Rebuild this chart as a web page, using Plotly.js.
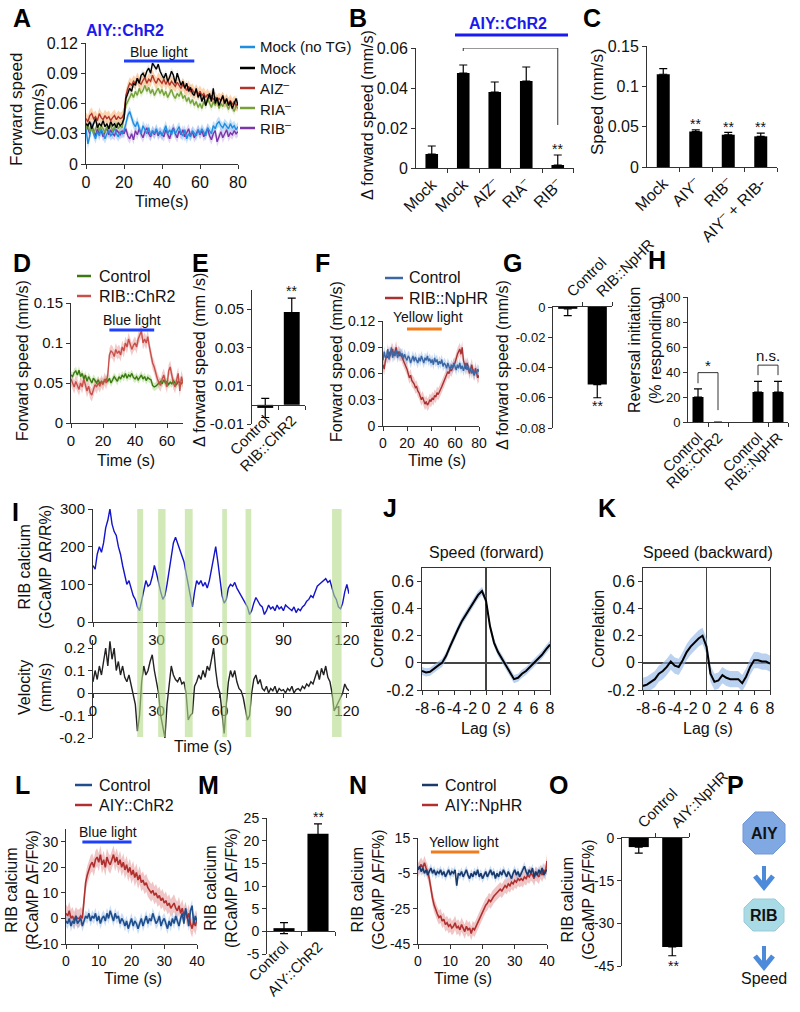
<!DOCTYPE html>
<html><head><meta charset="utf-8">
<script src="https://cdn.plot.ly/plotly-3.0.1.min.js"></script>
<style>html,body{margin:0;padding:0;background:#fff}#chart{width:800px;height:1012px}</style>
</head><body><div id="chart"></div>
<script>
// ---------------- DATA ----------------
// Panel A (forward speed, mm/s, 1 s steps, 0-80 s)
const dtA = 1;
const namesA = ['Mock (no TG)', 'Mock', 'AIZ<sup>–</sup>', 'RIA<sup>–</sup>', 'RIB<sup>–</sup>'];
const aMockNoTG = [0.035,0.02,0.028,0.04,0.03,0.025,0.032,0.028,0.035,0.03,0.025,0.03,0.033,0.028,0.03,0.036,0.03,0.027,0.032,0.03,
 0.033,0.04,0.048,0.052,0.045,0.04,0.037,0.042,0.035,0.03,0.038,0.033,0.03,0.036,0.028,0.033,0.03,0.035,0.03,0.032,
 0.028,0.033,0.038,0.03,0.034,0.029,0.035,0.03,0.033,0.037,0.03,0.028,0.034,0.025,0.03,0.027,0.033,0.03,0.028,0.034,
 0.03,0.035,0.032,0.028,0.036,0.033,0.03,0.038,0.035,0.04,0.042,0.038,0.036,0.04,0.037,0.035,0.04,0.036,0.038,0.034,0.037];
const aMock = [0.04,0.038,0.042,0.035,0.04,0.045,0.036,0.04,0.038,0.043,0.037,0.04,0.035,0.042,0.038,0.04,0.036,0.041,0.038,0.04,
 0.045,0.065,0.07,0.075,0.072,0.08,0.078,0.085,0.08,0.088,0.09,0.086,0.092,0.095,0.09,0.1,0.097,0.094,0.099,0.092,
 0.088,0.085,0.09,0.082,0.086,0.092,0.088,0.08,0.09,0.085,0.078,0.082,0.075,0.08,0.072,0.076,0.07,0.068,0.075,0.066,
 0.07,0.062,0.068,0.058,0.065,0.07,0.062,0.075,0.06,0.066,0.058,0.064,0.068,0.06,0.065,0.058,0.062,0.055,0.06,0.065,0.058];
const aAIZ = [0.045,0.042,0.048,0.05,0.045,0.047,0.043,0.05,0.046,0.044,0.048,0.045,0.047,0.043,0.046,0.048,0.044,0.047,0.045,0.046,
 0.05,0.068,0.075,0.08,0.078,0.082,0.08,0.085,0.081,0.079,0.083,0.086,0.08,0.084,0.082,0.088,0.083,0.08,0.085,0.082,
 0.08,0.084,0.079,0.083,0.078,0.082,0.08,0.077,0.081,0.078,0.075,0.079,0.076,0.073,0.077,0.072,0.074,0.07,0.073,0.069,
 0.072,0.068,0.07,0.066,0.069,0.065,0.068,0.064,0.066,0.062,0.065,0.063,0.066,0.061,0.064,0.06,0.063,0.059,0.062,0.058,0.06];
const aRIA = [0.035,0.04,0.032,0.038,0.03,0.036,0.04,0.033,0.038,0.035,0.031,0.037,0.034,0.039,0.033,0.036,0.04,0.035,0.038,0.036,
 0.045,0.058,0.062,0.065,0.07,0.066,0.072,0.068,0.075,0.07,0.073,0.078,0.072,0.076,0.07,0.074,0.068,0.072,0.075,0.07,
 0.074,0.068,0.072,0.066,0.07,0.074,0.068,0.065,0.07,0.067,0.072,0.065,0.068,0.062,0.066,0.06,0.064,0.058,0.062,0.056,
 0.06,0.055,0.062,0.058,0.065,0.06,0.056,0.062,0.058,0.064,0.055,0.06,0.057,0.063,0.058,0.054,0.06,0.056,0.052,0.058,0.055];
const aRIB = [0.04,0.035,0.03,0.038,0.032,0.028,0.035,0.03,0.033,0.027,0.032,0.036,0.029,0.034,0.03,0.028,0.034,0.031,0.029,0.033,
 0.03,0.035,0.028,0.025,0.03,0.024,0.033,0.029,0.035,0.03,0.026,0.032,0.036,0.03,0.027,0.033,0.029,0.034,0.028,0.032,
 0.03,0.027,0.034,0.029,0.025,0.032,0.036,0.03,0.026,0.033,0.029,0.034,0.027,0.031,0.035,0.028,0.032,0.026,0.03,0.034,
 0.029,0.033,0.027,0.031,0.035,0.028,0.024,0.03,0.033,0.022,0.028,0.032,0.026,0.03,0.034,0.027,0.031,0.029,0.033,0.03,0.032];
const semA = [0.005,0.004,0.006,0.004,0.005];
const lightA = [20, 57];

// Panel B
const catB = ['Mock', 'Mock', 'AIZ<sup>–</sup>', 'RIA<sup>–</sup>', 'RIB<sup>–</sup>'];
const valB = [0.007, 0.0475, 0.038, 0.0435, 0.0015];
const errB = [0.004, 0.004, 0.005, 0.007, 0.005];

// Panel C
const catC = ['Mock', 'AIY<sup>–</sup>', 'RIB<sup>–</sup>', 'AIY<sup>–</sup> + RIB-'];
const valC = [0.115, 0.044, 0.040, 0.038];
const errC = [0.007, 0.002, 0.003, 0.004];

// Panel D (0-70 s)
const dtD = 1;
const namesD = ['Control', 'RIB::ChR2'];
const dControl = [0.06,0.058,0.063,0.065,0.06,0.066,0.058,0.062,0.055,0.06,0.052,0.058,0.054,0.05,0.056,0.052,0.05,0.054,0.049,0.052,
 0.05,0.053,0.055,0.052,0.056,0.05,0.054,0.058,0.055,0.052,
 0.058,0.055,0.06,0.057,0.062,0.056,0.06,0.058,0.062,0.057,0.055,0.058,0.054,0.057,0.06,0.055,0.058,0.053,0.057,0.055,
 0.054,0.047,0.045,0.046,0.048,0.05,0.052,0.049,0.054,0.05,0.052,0.048,0.051,0.049,0.053,0.05,0.048,0.052,0.05,0.049,0.052];
const dChR2 = [0.055,0.05,0.045,0.052,0.048,0.042,0.05,0.045,0.055,0.048,0.04,0.046,0.038,0.035,0.042,0.048,0.045,0.05,0.046,0.052,
 0.048,0.055,0.05,0.06,0.085,0.09,0.088,0.083,0.092,0.087,0.09,0.085,0.095,0.09,0.1,0.095,0.105,0.098,0.092,0.097,
 0.1,0.095,0.105,0.11,0.115,0.1,0.105,0.1,0.108,0.095,0.085,0.075,0.07,0.062,0.055,0.05,0.047,0.055,0.06,0.052,
 0.045,0.065,0.07,0.06,0.05,0.045,0.055,0.062,0.04,0.058,0.05];
const semD = [0.005, 0.008];
const lightD = [24, 52];

// Panel E
const catE = ['Control', 'RIB::ChR2'];
const valE = [-0.0016, 0.0485];
const errE = [0.005, 0.0073];
const ticksE = [-0.01, 0.01, 0.03, 0.05];

// Panel F (0-80 s)
const dtF = 1;
const namesF = ['Control', 'RIB::NpHR'];
const fControl = [0.075,0.085,0.078,0.08,0.088,0.076,0.082,0.09,0.078,0.085,0.08,0.087,0.078,0.082,0.085,0.08,0.083,0.077,0.082,0.078,
 0.075,0.08,0.078,0.072,0.076,0.08,0.074,0.079,0.075,0.072,0.078,0.074,0.08,0.076,0.072,0.078,0.075,0.08,0.074,0.077,
 0.072,0.076,0.07,0.078,0.073,0.076,0.07,0.074,0.071,0.076,0.068,0.072,0.07,0.066,0.072,0.068,0.065,0.07,0.066,0.072,
 0.068,0.064,0.07,0.066,0.072,0.065,0.069,0.063,0.068,0.072,0.064,0.068,0.062,0.066,0.06,0.065,0.058,0.063,0.06,0.065,0.062];
const fNpHR = [0.07,0.065,0.075,0.08,0.078,0.085,0.08,0.083,0.088,0.08,0.085,0.09,0.082,0.085,0.08,0.082,0.078,0.075,0.072,0.068,
 0.065,0.06,0.055,0.058,0.052,0.05,0.048,0.044,0.045,0.04,0.038,0.034,0.03,0.033,0.028,0.025,0.028,0.024,0.026,0.03,
 0.028,0.032,0.03,0.035,0.033,0.038,0.036,0.04,0.042,0.045,0.048,0.052,0.055,0.058,0.062,0.06,0.065,0.063,0.068,0.07,
 0.072,0.078,0.082,0.085,0.088,0.082,0.09,0.075,0.07,0.065,0.072,0.068,0.06,0.065,0.07,0.062,0.058,0.066,0.06,0.055,0.058];
const semF = [0.006, 0.007];
const lightF = [20, 49];

// Panel G
const catG = ['Control', 'RIB::NpHR'];
const valG = [-0.0012, -0.0513];
const errG = [0.0045, 0.0087];
const ticksG = [0, -0.02, -0.04, -0.06, -0.08];

// Panel H
const catH = ['Control', 'RIB::ChR2', 'Control', 'RIB::NpHR'];
const posH = [0, 1, 3, 4];
const valH = [20, 0, 24, 24];
const errH = [6.5, 0, 8.5, 8.5];

// Panel I (1 s steps, 0-121 s)
const dtI = 1;
const iCalcium = [150,140,180,200,185,210,250,270,300,260,240,230,200,180,150,120,100,110,90,70,
 60,40,30,60,90,110,95,100,120,150,130,100,80,60,70,100,140,180,210,225,
 210,190,180,160,130,100,60,40,80,110,100,110,95,105,90,110,140,170,200,160,
 110,70,50,60,90,100,95,105,90,80,70,60,50,40,20,30,50,65,55,45,
 40,20,30,45,35,40,30,45,35,40,30,45,40,35,30,40,25,35,30,40,
 45,55,60,70,65,80,95,100,105,110,115,105,110,90,70,60,40,35,50,80,
 100,75];
const iVelocity = [0.05,0.1,0.06,0.12,0.08,0.15,0.2,0.12,0.23,0.15,0.2,0.1,0.14,0.08,0.12,0.07,0.05,0.08,0.04,0.0,
 -0.05,-0.17,-0.1,0.05,0.12,0.08,0.1,0.14,0.17,0.1,0.05,0.0,-0.1,-0.15,-0.2,-0.05,0.05,0.12,0.08,0.06,
 0.05,0.07,0.04,0.05,0.0,-0.12,-0.1,-0.09,0.03,0.05,0.08,0.06,0.1,0.07,0.12,0.1,0.15,0.2,0.1,0.03,
 0.0,-0.08,-0.18,-0.05,0.05,0.1,0.07,0.1,0.05,0.02,0.01,-0.02,-0.08,-0.12,-0.1,0.0,0.06,0.08,0.04,0.06,
 0.02,0.01,0.03,0.0,0.02,0.01,0.03,0.0,0.02,0.01,0.015,0.0,0.02,0.01,0.03,0.0,0.015,0.02,0.01,0.03,
 0.02,0.04,0.03,0.05,0.04,0.07,0.1,0.06,0.11,0.08,0.12,0.07,0.05,0.0,-0.08,-0.06,-0.04,-0.02,0.0,0.04,
 0.02,0.01];
const reversalStart = [20.9, 30.8, 43.4, 61.1, 72.1, 113.0];
const reversalEnd   = [23.7, 34.3, 47.1, 63.3, 74.8, 117.5];
const ticksIx = [0, 30, 60, 90, 120];
const ticksIv = [-0.2, -0.1, 0, 0.1, 0.2];

// Panels J, K (lag -8..8, 0.5 s)
const dLag = 0.5;
const lagStart = -8;
const jForward = [-0.06,-0.07,-0.065,-0.04,-0.02,0.0,0.05,0.12,0.19,0.25,0.31,0.36,0.41,0.45,0.5,0.53,0.46,0.27,0.15,0.08,0.03,-0.02,-0.07,-0.12,-0.11,-0.08,-0.06,-0.03,0.0,0.03,0.06,0.1,0.135];
const kBackward = [-0.17,-0.16,-0.14,-0.12,-0.08,-0.06,-0.03,0.01,-0.02,-0.03,0.02,0.08,0.12,0.15,0.18,0.2,0.12,-0.08,-0.14,-0.13,-0.09,-0.11,-0.12,-0.12,-0.12,-0.15,-0.1,-0.03,0.02,0.02,0.01,0.01,-0.005];
const semJ = 0.03, semK = 0.06;
const ticksLag = [-8, -6, -4, -2, 0, 2, 4, 6, 8];
const ticksCorr = [-0.2, 0, 0.2, 0.4, 0.6];

// Panel L (0.5 s, 0-40 s)
const dtL = 0.5;
const namesL = ['Control', 'AIY::ChR2'];
const lControl = [-1,-2,0,-3,-1,-2,1,-2,-1,0, -3,-1,1,0,2,-1,1,0,2,-1, 1,-2,0,1,-1,2,0,3,1,-1, 2,0,1,-2,0,-1,-3,-1,-4,-2,
 0,-3,-1,-2,-4,-2,0,-3,-1,1, -2,0,-1,2,0,-2,-1,1,-3,-1, 0,-2,-4,-1,-3,0,-2,1,-1,-3, 0,2,-2,4,1,-3,3,5,-2,1, -1];
const lChR2 = [2,1,3,0,1,-1,1,0,0,1,0, 8,14,17,19,21,22,20,23,24, 22,25,21,23,20,24,22,21,23,25, 22,24,21,23,20,22,19,21,18,20,
 17,19,16,18,15,17,14,15,13,14, 12,11,10,11,9,10,8,9,7,8, 6,7,5,6,4,5,6,4,3,5, 2,4,1,3,0,2,-2,-4,-1,-3, 0];
const semL = [2.2, 3.5];
const lightL = [5, 20];
const ticksL = [-10, 0, 10, 20, 30];

// Panel M
const catM = ['Control', 'AIY::ChR2'];
const valM = [0.7, 21.5];
const errM = [1.2, 2.2];
const ticksM = [-5, 0, 5, 10, 15, 20, 25];

// Panel N (0.5 s, 0-40 s)
const dtN = 0.5;
const namesN = ['Control', 'AIY::NpHR'];
const nControl = [-3,-1,-4,-2,-5,-3,-6,-4,-2,-5, -3,-6,-4,-5,-3,-6,-4,-7,-5,-3, -6,-4,-5,-3,-12,-5,-6,-4,-7,-5, -3,-6,-8,-5,-7,-4,-6,-3,-7,-5,
 -8,-6,-4,-7,-5,-3,-6,-4,-8,-5, -7,-4,-6,-3,-5,-7,-4,-6,-8,-5, -3,-6,-4,-7,-5,-3,-1,-4,-6,-3, -5,-2,-7,-4,-6,-3,-5,-2,-6,-4, -3];
const nNpHR = [-3,-1,0,-2,1,-2,-4, -8,-14,-19,-23,-26,-28,-30,-29, -32,-31,-34,-33,-35,-34,-36,-35,-33,-36, -35,-37,-34,-36,-38,-35,-37,-36,-39,-36,
 -37,-35,-33,-31,-28,-26,-25,-23,-22,-20, -21,-19,-18,-17,-16,-15,-14,-15,-13,-12, -13,-11,-12,-10,-11,-9,-10,-8,-9,-8,
 -9,-7,-8,-6,-7,-5,-6,-8,-5,-6, -7,-4,-6,-3,-5,2];
const semN = [2.5, 4];
const lightN = [4, 19];
const ticksN = [-45, -25, -5, 15];

// Panel O
const catO = ['Control', 'AIY::NpHR'];
const valO = [-3.2, -38.3];
const errO = [2.1, 3.1];
const ticksO = [0, -15, -30, -45];

// ---------------- HELPERS ----------------
const FONT = '"Liberation Sans", Arial, sans-serif';
const W = 800, H = 1012;
const X = p => p / W, Y = p => 1 - p / H;
const xd = (a, b) => [X(a), X(b)], yd = (t, b) => [Y(b), Y(t)];
const traces = [], ann = [], shp = [];
const tOf = (arr, dt, start) => arr.map((_, i) => (start || 0) + i * dt);
const F = (s) => ({family: FONT, size: s, color: '#111'});

function txt(text, px, py, o) {
  ann.push(Object.assign({text: text, x: X(px), y: Y(py), xref: 'paper', yref: 'paper', showarrow: false,
    xanchor: 'center', yanchor: 'middle', font: F(16)}, o || {}));
}
function vtxt(text, px, py, size) { txt(text, px, py, {textangle: -90, font: F(size || 16)}); }
function letter(l, px, py) { txt('<b>' + l + '</b>', px, py, {font: {family: FONT, size: 25, color: '#000'}}); }
function dtxt(text, xa, ya, x, y, size) {
  ann.push({text: text, x: x, y: y, xref: xa, yref: ya, showarrow: false, xanchor: 'center', yanchor: 'middle', font: F(size || 14)});
}
function pline(x0, y0, x1, y1, color, w) {
  shp.push({type: 'line', xref: 'paper', yref: 'paper', x0: X(x0), y0: Y(y0), x1: X(x1), y1: Y(y1), line: {color: color, width: w}});
}
function dline(xa, ya, x0, y0, x1, y1, color, w) {
  shp.push({type: 'line', xref: xa, yref: ya, x0: x0, y0: y0, x1: x1, y1: y1, line: {color: color, width: w}});
}
function lightBar(xa, range, py, color) {
  shp.push({type: 'line', xref: xa, yref: 'paper', x0: range[0], x1: range[1], y0: Y(py), y1: Y(py), line: {color: color, width: 3}});
}
function legendItem(x0, x1, py, color, label, tx, size) {
  pline(x0, py, x1, py, color, 2.5);
  txt(label, tx, py, {xanchor: 'left', font: F(size || 15)});
}
function addLine(xs, ys, color, xa, ya, w) {
  traces.push({type: 'scatter', mode: 'lines', x: xs, y: ys, xaxis: xa, yaxis: ya, line: {color: color, width: w || 1.3},
    hoverinfo: 'skip', showlegend: false});
}
function addBand(xs, ys, sem, fill, xa, ya) {
  traces.push({type: 'scatter', mode: 'lines', x: xs, y: ys.map(v => v + sem), xaxis: xa, yaxis: ya, line: {width: 0},
    hoverinfo: 'skip', showlegend: false});
  traces.push({type: 'scatter', mode: 'lines', x: xs, y: ys.map(v => v - sem), xaxis: xa, yaxis: ya, line: {width: 0},
    fill: 'tonexty', fillcolor: fill, hoverinfo: 'skip', showlegend: false});
}
function addBars(xs, ys, errP, errMn, xa, ya, width) {
  traces.push({type: 'bar', x: xs, y: ys, xaxis: xa, yaxis: ya, width: width, marker: {color: '#000', line: {width: 0}},
    error_y: {type: 'data', symmetric: false, array: errP, arrayminus: errMn, color: '#000', thickness: 1.2, width: 4},
    hoverinfo: 'skip', showlegend: false, cliponaxis: false});
}
function ax(o) {
  return Object.assign({showline: true, linecolor: '#333', linewidth: 1, ticks: 'outside', ticklen: 4, tickwidth: 1,
    tickcolor: '#333', showgrid: false, zeroline: false, automargin: false, fixedrange: true, tickfont: F(16)}, o);
}
function tk(vals) { return {tickmode: 'array', tickvals: vals, ticktext: vals.map(v => String(v))}; }
function catAx(dom, pos, labels, o, size) {
  const mids = pos.map(p => p + 0.5);
  return ax(Object.assign({domain: dom, range: [-0.5, pos[pos.length - 1] + 0.5], tickmode: 'array', tickvals: pos,
    ticktext: labels, ticks: '', tickangle: -45, tickfont: F(size || 15),
    minor: {tickmode: 'array', tickvals: mids, ticks: 'outside', ticklen: 4, tickcolor: '#333', tickwidth: 1}}, o));
}
const idx = arr => arr.map((_, i) => i);

const layout = {width: W, height: H, margin: {l: 0, r: 0, t: 0, b: 0}, paper_bgcolor: '#fff', plot_bgcolor: 'rgba(0,0,0,0)',
  font: F(16), showlegend: false, barmode: 'overlay'};

// ---------------- PANEL A ----------------
{
  const t = tOf(aMock, dtA);
  const cols = ['#1e8ee0', '#000000', '#b0362c', '#76a03a', '#7b36a8'];
  const fills = ['rgba(110,180,240,0.40)', 'rgba(120,120,120,0.15)', 'rgba(250,160,80,0.45)', 'rgba(170,205,110,0.30)', 'rgba(185,150,225,0.40)'];
  const ser = [aMockNoTG, aMock, aAIZ, aRIA, aRIB];
  [4, 0, 3, 2, 1].forEach(i => addBand(t, ser[i], semA[i], fills[i], 'x', 'y'));
  [4, 0, 3, 2, 1].forEach(i => addLine(t, ser[i], cols[i], 'x', 'y', 1.4));
  layout.xaxis = ax({domain: xd(86, 238), range: [0, 80], dtick: 20, anchor: 'y', tickfont: F(16)});
  layout.yaxis = ax({domain: yd(43, 164), range: [0, 0.12], dtick: 0.03, anchor: 'x', tickfont: F(16)});
  letter('A', 22, 18);
  txt('<b>AIY::ChR2</b>', 125, 30, {font: {family: FONT, size: 16, color: '#1a1aee'}});
  lightBar('x', lightA, 61, '#1f3fff');
  dtxt('Blue light', 'x', 'paper', (lightA[0] + lightA[1]) / 2, Y(52), 14);
  vtxt('Forward speed<br>(mm/s)', 27, 110, 17);
  txt('Time(s)', 162, 202, {font: F(16)});
  const ly = [47, 68, 88, 108, 128];
  namesA.forEach((n, i) => legendItem(240, 255, ly[i], cols[i], n, 258, 15));
}

// ---------------- PANEL B ----------------
{
  addBars(idx(valB), valB, errB, valB.map(() => 0), 'x2', 'y2', 0.4);
  layout.xaxis2 = catAx(xd(416, 573.5), idx(catB), catB, {anchor: 'y2'}, 16);
  layout.yaxis2 = ax({domain: yd(48, 168), range: [0, 0.06], dtick: 0.02, anchor: 'x2'});
  letter('B', 358, 18);
  txt('<b>AIY::ChR2</b>', 508, 24, {font: {family: FONT, size: 16, color: '#1a1aee'}});
  pline(455, 35, 568, 35, '#1a1aee', 3);
  dline('x2', 'y2', 1, 0.0585, 1, 0.06, '#333', 1);
  dline('x2', 'y2', 1, 0.06, 4, 0.06, '#333', 1);
  dline('x2', 'y2', 4, 0.06, 4, 0.0215, '#333', 1);
  dtxt('**', 'x2', 'y2', 4, 0.0095, 14);
  vtxt('Δ forward speed (mm/s)', 367, 115, 16);
}

// ---------------- PANEL C ----------------
{
  addBars(idx(valC), valC, errC, valC.map(() => 0), 'x3', 'y3', 0.4);
  layout.xaxis3 = catAx(xd(647, 777), idx(catC), catC, {anchor: 'y3'}, 16);
  layout.yaxis3 = ax({domain: yd(46, 167), range: [0, 0.15], dtick: 0.05, anchor: 'x3'});
  letter('C', 592, 18);
  [1, 2, 3].forEach(i => dtxt('**', 'x3', 'y3', i, valC[i] + errC[i] + 0.007, 14));
  vtxt('Speed (mm/s)', 598, 102, 17);
}

// ---------------- PANEL D ----------------
{
  const t = tOf(dControl, dtD);
  addBand(t, dControl, semD[0], 'rgba(160,210,120,0.45)', 'x4', 'y4');
  addBand(t, dChR2, semD[1], 'rgba(230,150,150,0.50)', 'x4', 'y4');
  addLine(t, dControl, '#3a7a10', 'x4', 'y4', 1.4);
  addLine(t, dChR2, '#c8504a', 'x4', 'y4', 1.4);
  layout.xaxis4 = ax({domain: xd(71, 183), range: [0, 70], dtick: 20, anchor: 'y4', tickfont: F(15)});
  layout.yaxis4 = ax({domain: yd(303, 423), range: [0, 0.15], dtick: 0.05, anchor: 'x4', tickfont: F(15)});
  letter('D', 22, 263);
  legendItem(77, 91, 276, '#3a7a10', namesD[0], 97, 16);
  legendItem(77, 91, 296, '#c8504a', namesD[1], 97, 16);
  lightBar('x4', lightD, 330, '#1f3fff');
  dtxt('Blue light', 'x4', 'paper', (lightD[0] + lightD[1]) / 2, Y(320), 14);
  vtxt('Forward speed (mm/s)', 22, 361, 16);
  txt('Time (s)', 126, 460, {font: F(16)});
}

// ---------------- PANEL E ----------------
{
  addBars(idx(valE), valE, errE, errE, 'x5', 'y5', 0.6);
  layout.xaxis5 = catAx(xd(252, 305), idx(catE), catE, {anchor: 'free', position: Y(404.9)}, 15);
  layout.yaxis5 = ax(Object.assign({domain: yd(290, 424), range: [-0.01, 0.06], anchor: 'x5', tickfont: F(15)}, tk(ticksE)));
  letter('E', 200, 263);
  dtxt('**', 'x5', 'y5', 1, 0.0595, 14);
  vtxt('Δ forward speed (mm /s)', 200, 360, 16);
}

// ---------------- PANEL F ----------------
{
  const t = tOf(fControl, dtF);
  addBand(t, fNpHR, semF[1], 'rgba(220,120,120,0.40)', 'x6', 'y6');
  addBand(t, fControl, semF[0], 'rgba(120,165,225,0.40)', 'x6', 'y6');
  addLine(t, fNpHR, '#a83232', 'x6', 'y6', 1.4);
  addLine(t, fControl, '#3b68a5', 'x6', 'y6', 1.4);
  layout.xaxis6 = ax({domain: xd(383, 479), range: [0, 80], dtick: 20, anchor: 'y6', tickfont: F(14)});
  layout.yaxis6 = ax({domain: yd(321, 426), range: [0, 0.12], dtick: 0.03, anchor: 'x6', tickfont: F(14)});
  letter('F', 322, 263);
  legendItem(385, 403, 278, '#3b68a5', namesF[0], 407, 16);
  legendItem(385, 403, 298, '#a83232', namesF[1], 407, 16);
  lightBar('x6', lightF, 329, '#f07c1c');
  dtxt('Yellow light', 'x6', 'paper', 37.5, Y(317), 14);
  vtxt('Forward speed (mm/s)', 337, 362, 16);
  txt('Time (s)', 437, 460, {font: F(16)});
}

// ---------------- PANEL G ----------------
{
  addBars(idx(valG), valG, valG.map(() => 0), errG, 'x7', 'y7', 0.65);
  layout.xaxis7 = catAx(xd(553, 612), idx(catG), catG, {anchor: 'y7', side: 'top'}, 15);
  layout.yaxis7 = ax(Object.assign({domain: yd(307, 428), range: [-0.08, 0], anchor: 'x7', tickfont: F(13)}, tk(ticksG)));
  letter('G', 512, 263);
  dtxt('**', 'x7', 'y7', 1, -0.0655, 14);
  vtxt('Δ forward speed (mm/s)', 502, 365, 16);
}

// ---------------- PANEL H ----------------
{
  addBars(posH, valH, errH, valH.map(() => 0), 'x8', 'y8', 0.55);
  layout.xaxis8 = catAx(xd(688, 788), posH, catH, {anchor: 'y8'}, 15);
  layout.yaxis8 = ax({domain: yd(297, 422), range: [0, 100], dtick: 20, anchor: 'x8', tickfont: F(13)});
  letter('H', 657, 260);
  dline('x8', 'y8', 0, 31, 0, 39.5, '#333', 1);
  dline('x8', 'y8', 0, 39.5, 1, 39.5, '#333', 1);
  dline('x8', 'y8', 1, 39.5, 1, 9.5, '#333', 1);
  dtxt('*', 'x8', 'y8', 0.5, 45, 15);
  dline('x8', 'y8', 3, 37.5, 3, 45.5, '#333', 1);
  dline('x8', 'y8', 3, 45.5, 4, 45.5, '#333', 1);
  dline('x8', 'y8', 4, 45.5, 4, 37.5, '#333', 1);
  dtxt('n.s.', 'x8', 'y8', 3.5, 53, 15);
  vtxt('Reversal initiation<br>(% responding)', 645, 350, 16);
}

// ---------------- PANEL I ----------------
{
  const t = tOf(iCalcium, dtI);
  addLine(t, iCalcium, '#1414c8', 'x9', 'y9', 1.4);
  addLine(t, iVelocity, '#222222', 'x10', 'y10', 1.4);
  layout.xaxis9 = ax(Object.assign({domain: xd(93, 349), range: [0, 121], anchor: 'y9', tickfont: F(15)}, tk(ticksIx)));
  layout.yaxis9 = ax({domain: yd(509, 622), range: [0, 300], dtick: 100, anchor: 'x9', tickfont: F(15)});
  layout.xaxis10 = ax(Object.assign({domain: xd(93, 349), range: [0, 121], anchor: 'free', position: Y(693), tickfont: F(15)}, tk(ticksIx)));
  layout.yaxis10 = ax(Object.assign({domain: yd(640, 738), range: [-0.2, 0.2356], anchor: 'x10', tickfont: F(15)}, tk(ticksIv)));
  reversalStart.forEach((s, i) => shp.push({type: 'rect', xref: 'x9', yref: 'paper', x0: s, x1: reversalEnd[i], y0: Y(737), y1: Y(509),
    fillcolor: '#b5dc8a', opacity: 0.62, line: {width: 0}, layer: 'above'}));
  letter('I', 15, 512);
  vtxt('RIB calcium<br>(GCaMP ΔR/R%)', 35, 567, 16);
  vtxt('Velocity<br>(mm/s)', 35, 688, 16);
  txt('Time (s)', 203, 746, {font: F(16)});
}

// ---------------- PANELS J, K ----------------
function corrPanel(ys, sem, xa, ya, n, dom, title, cx, labelX, letterX, L) {
  const lag = tOf(ys, dLag, lagStart);
  addBand(lag, ys, sem, 'rgba(150,185,232,0.65)', xa, ya);
  addLine(lag, ys, '#000', xa, ya, 2);
  layout['xaxis' + n] = ax(Object.assign({domain: dom, range: [-8, 8], anchor: ya, mirror: true, zeroline: true, zerolinecolor: '#444',
    zerolinewidth: 1.3, tickangle: 0}, tk(ticksLag)));
  layout['yaxis' + n] = ax(Object.assign({domain: yd(568, 690), range: [-0.2, 0.7], anchor: xa, mirror: true, zeroline: true,
    zerolinecolor: '#444', zerolinewidth: 1.3}, tk(ticksCorr)));
  txt(title, cx, 552, {font: F(16)});
  vtxt('Correlation', labelX, 629, 16);
  txt('Lag (s)', cx, 728, {font: F(16)});
  letter(L, letterX, 508);
}
corrPanel(jForward, semJ, 'x11', 'y11', 11, xd(422, 550), 'Speed (forward)', 486, 377, 390, 'J');
corrPanel(kBackward, semK, 'x12', 'y12', 12, xd(643, 770), 'Speed (backward)', 708, 598, 607, 'K');

// ---------------- PANEL L ----------------
{
  const t = tOf(lChR2, dtL);
  const tc = tOf(lControl, dtL);
  addBand(t, lChR2, semL[1], 'rgba(225,140,140,0.50)', 'x13', 'y13');
  addBand(tc, lControl, semL[0], 'rgba(140,180,230,0.45)', 'x13', 'y13');
  addLine(t, lChR2, '#b03030', 'x13', 'y13', 1.6);
  addLine(tc, lControl, '#1f4e8c', 'x13', 'y13', 1.6);
  layout.xaxis13 = ax({domain: xd(66, 197), range: [0, 40], dtick: 10, anchor: 'y13', tickfont: F(14)});
  layout.yaxis13 = ax(Object.assign({domain: yd(829, 944), range: [-10, 35], anchor: 'x13', tickfont: F(14)}, tk(ticksL)));
  letter('L', 22, 785);
  legendItem(75, 92, 785, '#1f4e8c', namesL[0], 97, 16);
  legendItem(75, 92, 805, '#b03030', namesL[1], 97, 16);
  lightBar('x13', lightL, 842, '#1f3fff');
  dtxt('Blue light', 'x13', 'paper', 12.7, Y(832), 14);
  vtxt('RIB calcium<br>(RCaMP ΔF/F%)', 22, 890, 16);
  txt('Time (s)', 133, 978, {font: F(16)});
}

// ---------------- PANEL M ----------------
{
  addBars(idx(valM), valM, errM, errM, 'x14', 'y14', 0.62);
  layout.xaxis14 = catAx(xd(267, 335), idx(catM), catM, {anchor: 'free', position: Y(931)}, 15);
  layout.yaxis14 = ax(Object.assign({domain: yd(818, 954), range: [-5, 25], anchor: 'x14', tickfont: F(14)}, tk(ticksM)));
  letter('M', 208, 785);
  txt('**', 318, 817, {font: F(14)});
  vtxt('RIB calcium<br>(RCaMP ΔF/F%)', 221, 888, 16);
}

// ---------------- PANEL N ----------------
{
  const t = tOf(nNpHR, dtN);
  const tc = tOf(nControl, dtN);
  addBand(t, nNpHR, semN[1], 'rgba(225,140,140,0.50)', 'x15', 'y15');
  addBand(tc, nControl, semN[0], 'rgba(140,180,230,0.45)', 'x15', 'y15');
  addLine(t, nNpHR, '#b03030', 'x15', 'y15', 1.6);
  addLine(tc, nControl, '#1a3a6b', 'x15', 'y15', 1.6);
  layout.xaxis15 = ax({domain: xd(418, 547), range: [0, 40], dtick: 10, anchor: 'y15', tickfont: F(14)});
  layout.yaxis15 = ax(Object.assign({domain: yd(838, 944), range: [-45, 15], anchor: 'x15', tickfont: F(14)}, tk(ticksN)));
  letter('N', 358, 785);
  legendItem(422, 438, 785, '#1a3a6b', namesN[0], 443, 16);
  legendItem(422, 438, 805, '#b03030', namesN[1], 443, 16);
  lightBar('x15', lightN, 852, '#f07c1c');
  dtxt('Yellow light', 'x15', 'paper', 14.2, Y(842), 14);
  vtxt('RIB calcium<br>(GCaMP ΔF/F%)', 368, 890, 16);
  txt('Time (s)', 463, 978, {font: F(16)});
}

// ---------------- PANEL O ----------------
{
  addBars(idx(valO), valO, valO.map(() => 0), errO, 'x16', 'y16', 0.6);
  layout.xaxis16 = catAx(xd(622, 689), idx(catO), catO, {anchor: 'y16', side: 'top'}, 15);
  layout.yaxis16 = ax(Object.assign({domain: yd(838, 966), range: [-45, 0], anchor: 'x16', tickfont: F(14)}, tk(ticksO)));
  letter('O', 558, 785);
  txt('**', 673, 966, {font: F(14)});
  vtxt('RIB calcium<br>(GCaMP ΔF/F%)', 578, 900, 16);
}

// ---------------- PANEL P (diagram) ----------------
{
  function oct(cx, cy, a, b, c, fill, edge) {
    const pts = [[cx - a + c, cy - b], [cx + a - c, cy - b], [cx + a, cy - b + c], [cx + a, cy + b - c],
      [cx + a - c, cy + b], [cx - a + c, cy + b], [cx - a, cy + b - c], [cx - a, cy - b + c]];
    const path = 'M' + pts.map(p => X(p[0]).toFixed(5) + ',' + Y(p[1]).toFixed(5)).join(' L') + ' Z';
    shp.push({type: 'path', xref: 'paper', yref: 'paper', path: path, fillcolor: fill, line: {color: edge, width: 1}});
  }
  function arrow(cx, y0, y1) {
    pline(cx, y0, cx, y1 - 2, '#4d8ad9', 4);
    shp.push({type: 'path', xref: 'paper', yref: 'paper',
      path: 'M' + X(cx - 9) + ',' + Y(y1 - 11) + ' L' + X(cx) + ',' + Y(y1) + ' L' + X(cx + 9) + ',' + Y(y1 - 11),
      line: {color: '#4d8ad9', width: 5}});
  }
  letter('P', 735, 785);
  oct(764, 833, 21, 21, 12, '#80a8e2', '#6f98d6');
  txt('<b>AIY</b>', 764, 833, {font: F(16)});
  arrow(764, 866, 887);
  oct(764, 915, 20, 16, 9, '#a9dbe6', '#9ccbd8');
  txt('<b>RIB</b>', 764, 915, {font: F(16)});
  arrow(764, 946, 967);
  txt('Speed', 764, 978, {font: F(16)});
}

layout.annotations = ann;
layout.shapes = shp;
Plotly.newPlot('chart', traces, layout, {staticPlot: true, displayModeBar: false});
</script></body></html>
